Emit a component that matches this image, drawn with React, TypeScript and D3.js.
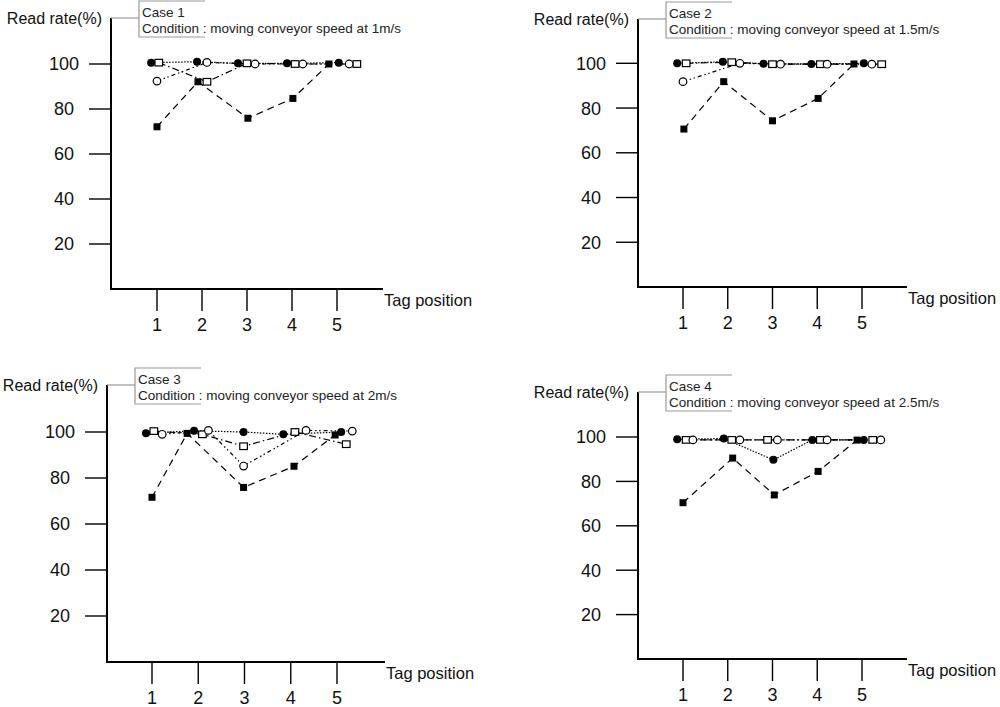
import React from 'react';
import * as d3 from 'd3';

// ---- data ----
const tagPositions = [1, 2, 3, 4, 5];
const yTicks = [20, 40, 60, 80, 100];
const caseLabels = ['Case 1', 'Case 2', 'Case 3', 'Case 4'];
const conditions = [
  'Condition : moving conveyor speed at 1m/s',
  'Condition : moving conveyor speed at 1.5m/s',
  'Condition : moving conveyor speed at 2m/s',
  'Condition : moving conveyor speed at 2.5m/s',
];

// series order: filled circle, open square, open circle, filled square
const seriesKeys = ['filledCircle', 'openSquare', 'openCircle', 'filledSquare'];

// plotted x positions (markers are nudged around each tag)
const case1Tags = [
  [0.87, 1.89, 2.8, 3.89, 5.04],
  [1.04, 2.11, 3.0, 4.07, 5.44],
  [1.0, 2.11, 3.18, 4.24, 5.27],
  [1.0, 1.91, 3.02, 4.02, 4.82],
];
const case1Rates = [
  [100.6, 101, 100.3, 100.3, 100.6],
  [100.6, 92.1, 100.3, 100, 100],
  [92.4, 100.7, 100, 100, 100],
  [72.1, 92.1, 75.9, 84.7, 100],
];

const case2Tags = [
  [0.87, 1.89, 2.8, 3.87, 5.04],
  [1.07, 2.09, 3.0, 4.07, 5.44],
  [1.0, 2.27, 3.18, 4.22, 5.22],
  [1.02, 1.91, 3.0, 4.02, 4.82],
];
const case2Rates = [
  [100, 100.7, 99.8, 99.7, 100],
  [100, 100.5, 99.6, 99.6, 99.6],
  [91.8, 100, 99.6, 99.6, 99.6],
  [70.6, 91.8, 74.3, 84.3, 99.7],
];

const case3Tags = [
  [0.87, 1.91, 2.98, 3.84, 5.09],
  [1.04, 2.09, 2.98, 4.09, 5.2],
  [1.22, 2.22, 2.98, 4.33, 5.33],
  [1.0, 1.76, 2.98, 4.07, 4.96],
];
const case3Rates = [
  [99.5, 100.5, 100, 99, 100],
  [100.4, 99, 93.8, 100, 94.7],
  [99, 100.7, 85.2, 100.7, 100.4],
  [71.6, 99.4, 75.9, 85.1, 98.7],
];

const case4Tags = [
  [0.87, 1.91, 3.02, 3.89, 5.04],
  [1.07, 2.09, 2.89, 4.07, 5.24],
  [1.22, 2.27, 3.11, 4.22, 5.42],
  [1.0, 2.11, 3.04, 4.02, 4.89],
];
const case4Rates = [
  [99, 99.3, 89.7, 98.7, 98.7],
  [98.7, 98.7, 98.7, 98.7, 98.7],
  [98.7, 98.7, 98.7, 98.7, 98.7],
  [70.4, 90.5, 73.9, 84.5, 98.6],
];

const allTags = [case1Tags, case2Tags, case3Tags, case4Tags];
const allRates = [case1Rates, case2Rates, case3Rates, case4Rates];

// ---- layout ----
const panels = [
  { axisX: 111, axisTop: 18, baseY: 289, y100: 64, x1: 157, x5: 337, axisEnd: 383 },
  { axisX: 638, axisTop: 19, baseY: 287, y100: 63.3, x1: 683, x5: 862, axisEnd: 907 },
  { axisX: 107, axisTop: 385, baseY: 662, y100: 432, x1: 152, x5: 337, axisEnd: 385 },
  { axisX: 638, axisTop: 392, baseY: 659, y100: 437, x1: 683, x5: 862, axisEnd: 907 },
];

const dashes: Record<string, string> = {
  filledCircle: '1.5,1.5',
  openSquare: '7,3,1.5,3',
  openCircle: '4,3,1.5,2.5,1.5,3',
  filledSquare: '7,5',
};

const FONT = '"Liberation Sans", Arial, sans-serif';

function Marker({ kind, x, y }: { kind: string; x: number; y: number }) {
  if (kind === 'filledCircle') return <circle cx={x} cy={y} r={4} fill="#000" />;
  if (kind === 'openCircle')
    return <circle cx={x} cy={y} r={3.8} fill="#fff" stroke="#000" strokeWidth={1.2} />;
  if (kind === 'filledSquare') return <rect x={x - 3.5} y={y - 3.5} width={7} height={7} fill="#000" />;
  return <rect x={x - 3.8} y={y - 3.3} width={7.6} height={6.6} fill="#fff" stroke="#000" strokeWidth={1.2} />;
}

function Panel({ idx }: { idx: number }) {
  const p = panels[idx];
  const x = d3.scaleLinear().domain([1, 5]).range([p.x1, p.x5]);
  const y = d3.scaleLinear().domain([0, 100]).range([p.baseY, p.y100]);
  const tags = allTags[idx];
  const rates = allRates[idx];

  const line = d3
    .line<[number, number]>()
    .x((d) => x(d[0]))
    .y((d) => y(d[1]));

  const boxLeft = p.axisX + 28;
  const boxTop = p.axisTop - 17;

  return (
    <g>
      {/* axes */}
      <line x1={p.axisX} x2={p.axisX} y1={p.axisTop} y2={p.baseY + 1} stroke="#000" strokeWidth={2} />
      <line x1={p.axisX - 1} x2={p.axisEnd} y1={p.baseY} y2={p.baseY} stroke="#000" strokeWidth={2} />
      {yTicks.map((t) => (
        <g key={t}>
          <line x1={p.axisX - 22} x2={p.axisX} y1={y(t)} y2={y(t)} stroke="#000" strokeWidth={1.4} />
          <text x={p.axisX - 47} y={y(t)} dy="0.36em" textAnchor="middle" fontSize={18} fontFamily={FONT} fill="#111">
            {t}
          </text>
        </g>
      ))}
      {tagPositions.map((t) => (
        <g key={t}>
          <line x1={x(t)} x2={x(t)} y1={p.baseY} y2={p.baseY + 22} stroke="#000" strokeWidth={1.4} />
          <text x={x(t)} y={p.baseY + 36} dy="0.36em" textAnchor="middle" fontSize={18} fontFamily={FONT} fill="#111">
            {t}
          </text>
        </g>
      ))}
      <text x={p.axisX - 9} y={p.axisTop} dy="0.36em" textAnchor="end" fontSize={16} fontFamily={FONT} fill="#111">
        Read rate(%)
      </text>
      <text x={p.axisEnd + 1} y={p.baseY + 11} dy="0.36em" fontSize={16.5} fontFamily={FONT} fill="#111">
        Tag position
      </text>

      {/* caption box */}
      <line x1={p.axisX} x2={boxLeft} y1={p.axisTop} y2={p.axisTop} stroke="#999" strokeWidth={1.2} />
      <path
        d={`M${boxLeft + 66},${boxTop} H${boxLeft} V${boxTop + 36} H${boxLeft + 66}`}
        fill="none"
        stroke="#999"
        strokeWidth={1.2}
      />
      <text x={boxLeft + 3} y={boxTop + 11} dy="0.36em" fontSize={13.5} fontFamily={FONT} fill="#222">
        {caseLabels[idx]}
      </text>
      <text x={boxLeft + 3} y={boxTop + 27} dy="0.36em" fontSize={13.5} fontFamily={FONT} fill="#222">
        {conditions[idx]}
      </text>

      {/* series lines */}
      {seriesKeys.map((k, si) => (
        <path
          key={k}
          d={line(tags[si].map((tx, i) => [tx, rates[si][i]] as [number, number])) || ''}
          fill="none"
          stroke="#000"
          strokeWidth={1.2}
          strokeDasharray={dashes[k]}
        />
      ))}
      {/* markers */}
      {[3, 1, 2, 0].map((si) =>
        tags[si].map((tx, i) => <Marker key={`${si}-${i}`} kind={seriesKeys[si]} x={x(tx)} y={y(rates[si][i])} />)
      )}
    </g>
  );
}

export default function App() {
  return (
    <svg
      width={1000}
      height={707}
      style={{ position: 'absolute', left: 0, top: 0, background: '#fff' }}
    >
      <rect width={1000} height={707} fill="#fff" />
      {panels.map((_, i) => (
        <Panel key={i} idx={i} />
      ))}
    </svg>
  );
}
